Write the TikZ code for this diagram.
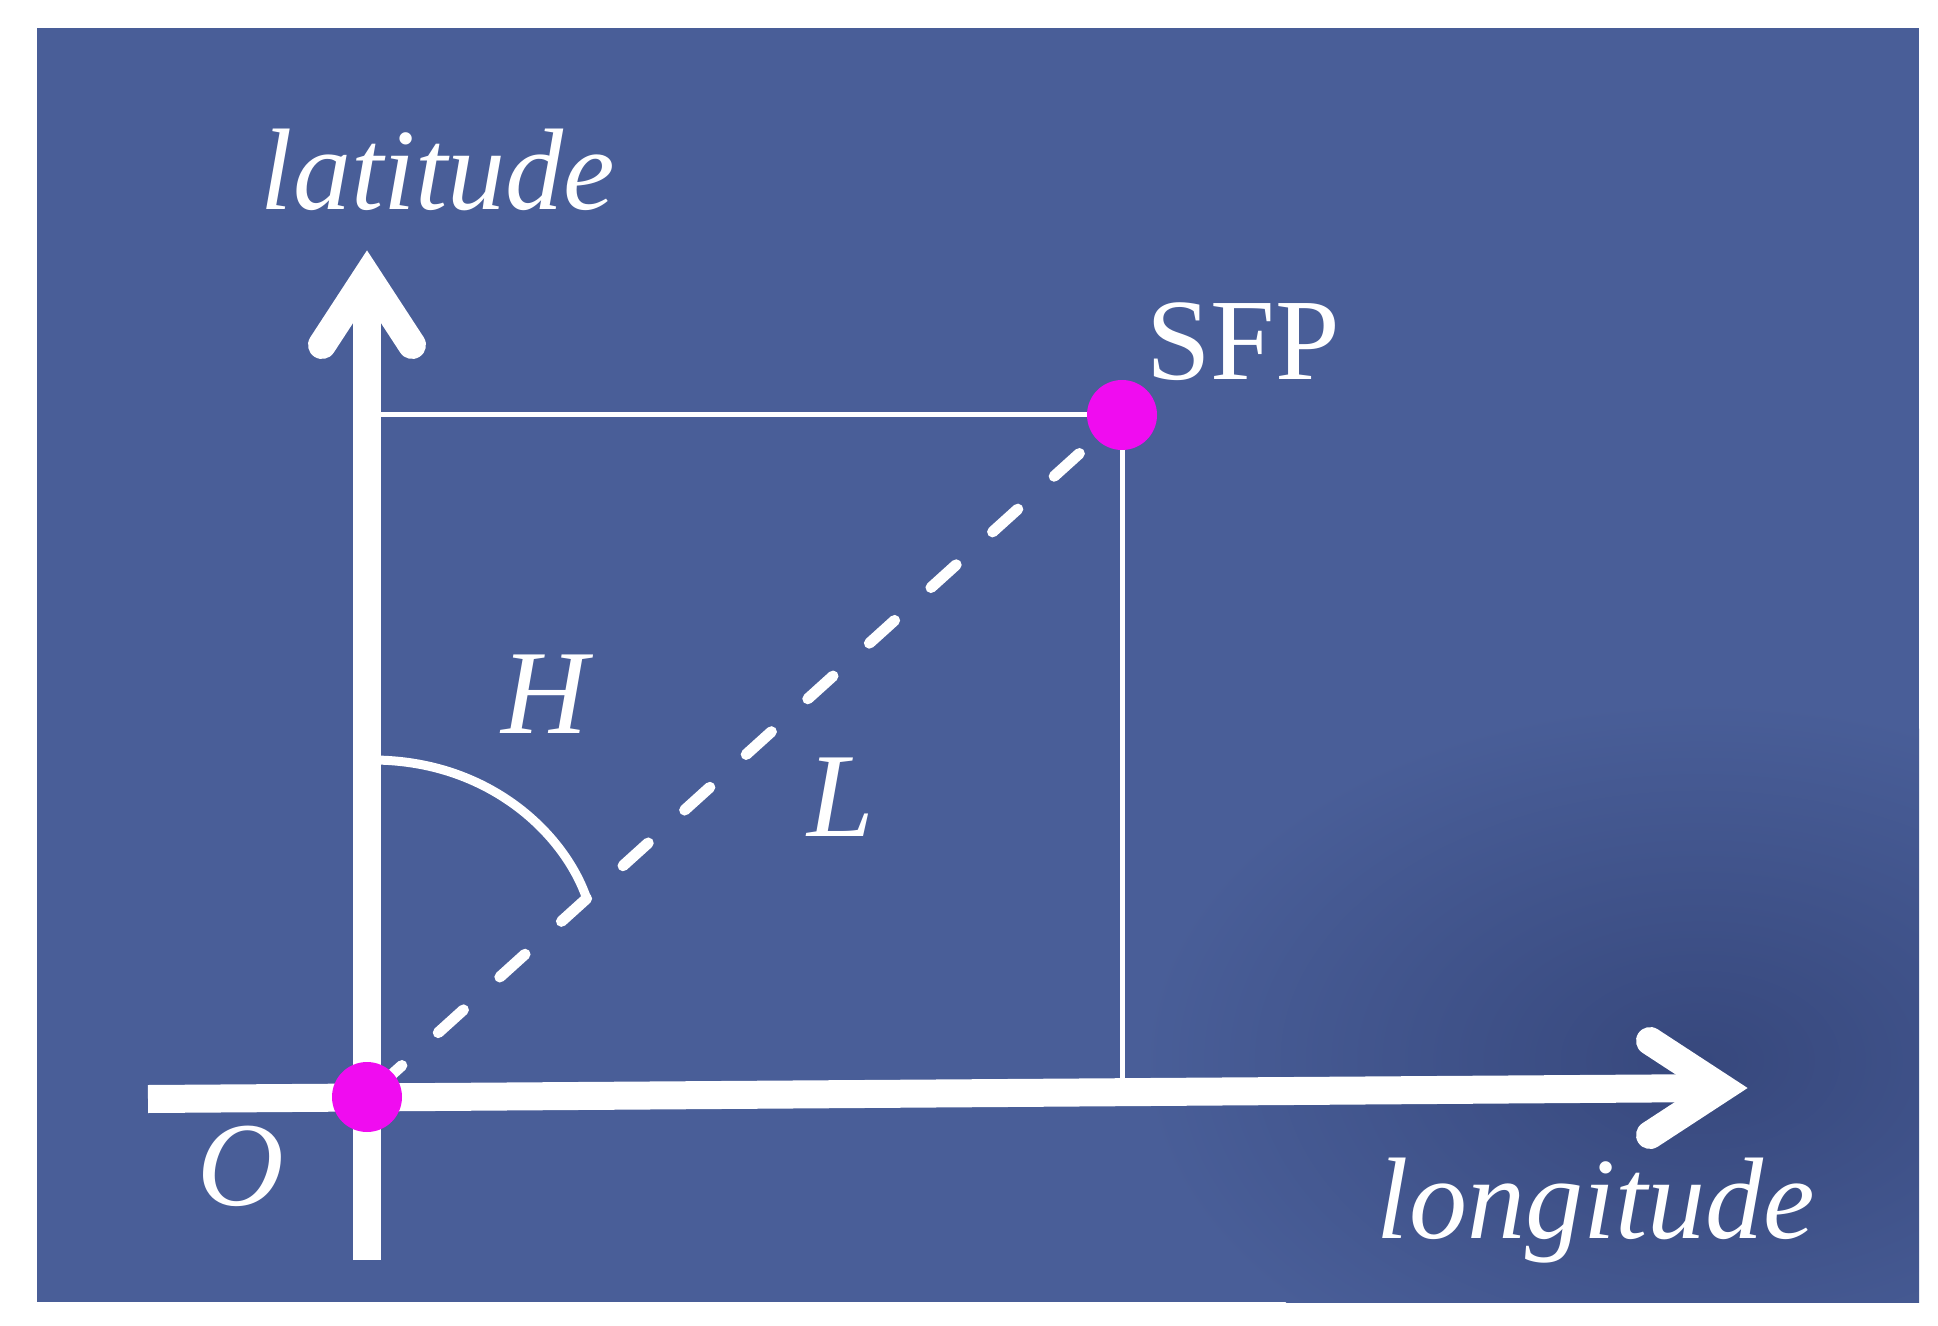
\documentclass[tikz,border=0pt]{standalone}
\usepackage{fontspec}
\setmainfont{LiberationSerif}[Extension=.ttf, UprightFont=*-Regular, ItalicFont=*-Italic, BoldFont=*-Bold]
\usetikzlibrary{calc}
\definecolor{bgblue}{RGB}{73,94,152}
\definecolor{bgdark}{RGB}{55,72,125}
\definecolor{dotmag}{RGB}{240,12,240}
\begin{document}
\begin{tikzpicture}[x=0.5pt,y=-0.5pt,
  axisline/.style={draw=white, line width=14pt, line cap=butt},
  chevron/.style={draw=white, line width=14pt, line cap=round, line join=miter},
  thinline/.style={draw=white, line width=2.5pt},
  dashline/.style={draw=white, line width=5.5pt, line cap=round, dash pattern=on 17pt off 24.5pt, dash phase=35pt},
  anglearc/.style={draw=white, line width=4.5pt, line cap=round},
  dotnode/.style={circle, fill=dotmag, inner sep=0pt, minimum size=35pt},
  lab/.style={text=white, inner sep=0pt, anchor=base, font=\fontsize{58}{60}\selectfont},
  biglab/.style={text=white, inner sep=0pt, anchor=base, font=\fontsize{60}{62}\selectfont\itshape}]
\useasboundingbox (0,0) rectangle (1938,1326);
\fill[white] (0,0) rectangle (1938,1326);
\fill[bgblue] (37,28) rectangle (1919,1302);
\begin{scope}
\clip (37,28) rectangle (1919,1302);
\shade[inner color=bgdark, outer color=bgblue] (1700,1060) ellipse [x radius=560, y radius=360];
\end{scope}
% named points
\coordinate (Ov) at (367,1097);
\coordinate (Sv) at (1122,415);
% dashed line (drawn first, dots cover it)
\draw[dashline] (Ov) -- (Sv);
% thin guide lines
\coordinate (Gl) at (372,415);
\coordinate (Gb) at (1122,1086);
\draw[thinline] (Gl) -- (Sv) -- (Gb);
% angle arc
\coordinate (Hs) at (372,760);
\coordinate (He) at ($(Ov)!0.291!(Sv)$);
\draw[anglearc] (Hs) .. controls (490,760) and (565,835) .. (He);
% vertical axis
\coordinate (Vb) at (367,1260);
\coordinate (Vt) at (367,276);
\coordinate (Va) at (322,345);
\coordinate (Vc) at (412,345);
\draw[axisline] (Vb) -- (Vt);
\draw[chevron] (Va) -- (Vt) -- (Vc);
% horizontal axis
\coordinate (Hl) at (148,1099);
\coordinate (Hr) at (1722,1088);
\coordinate (Ha) at (1650,1041);
\coordinate (Hc) at (1650,1135);
\draw[axisline] (Hl) -- (Hr);
\draw[chevron] (Ha) -- (Hr) -- (Hc);
% dots
\node[dotnode] (O) at (Ov) {};
\node[dotnode] (SFP) at (Sv) {};
% labels
\node[lab] (lat) at (438,210) {\itshape latitude};
\node[lab] (sfplab) at (1243,380) {SFP};
\node[biglab] (Hlab) at (545,733) {H};
\node[biglab] (Llab) at (841,836) {L};
\node[biglab] (Olab) at (241,1205) {O};
\node[lab] (lon) at (1596,1238) {\itshape longitude};
\end{tikzpicture}
\end{document}
